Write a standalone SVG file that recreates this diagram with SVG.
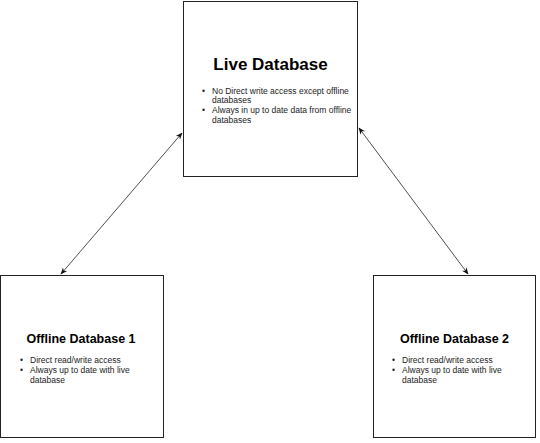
<svg xmlns="http://www.w3.org/2000/svg" width="540" height="443" viewBox="0 0 540 443">
<defs>
<marker id="ah" viewBox="0 0 10 10" refX="9" refY="5" markerWidth="7" markerHeight="7" orient="auto-start-reverse" markerUnits="userSpaceOnUse">
<path d="M0,1 L10,5 L0,9 L3,5 Z" fill="#111"/>
</marker>
</defs>
<style>
.box{fill:#fff;stroke:#222;stroke-width:1}
.title{font-family:"Liberation Sans",Arial,sans-serif;font-weight:bold;fill:#000;text-anchor:middle}
.txt{font-family:"Liberation Sans",Arial,sans-serif;font-size:8.5px;fill:#222}
.conn{stroke:#222;stroke-width:0.8;fill:none;marker-start:url(#ah);marker-end:url(#ah)}
</style>
<rect width="540" height="443" fill="#fff"/>
<g id="connectors">
<line class="conn" x1="182" y1="133" x2="61" y2="274"/>
<line class="conn" x1="359" y1="128" x2="468" y2="274"/>
</g>
<g id="live">
<rect class="box" x="183.5" y="1.5" width="174" height="175"/>
<text class="title" x="270.5" y="70" font-size="17">Live Database</text>
<text class="txt" x="202" y="93.5">•</text>
<text class="txt" x="212" y="93.5">No Direct write access except offline</text>
<text class="txt" x="212" y="103">databases</text>
<text class="txt" x="202" y="113">•</text>
<text class="txt" x="212" y="113">Always in up to date data from offline</text>
<text class="txt" x="212" y="122.5">databases</text>
</g>
<g id="offline1">
<rect class="box" x="0.5" y="275.5" width="163" height="162"/>
<text class="title" x="81" y="343" font-size="12.5">Offline Database 1</text>
<text class="txt" x="20" y="363">•</text>
<text class="txt" x="30" y="363">Direct read/write access</text>
<text class="txt" x="20" y="373">•</text>
<text class="txt" x="30" y="373">Always up to date with live</text>
<text class="txt" x="30" y="382.5">database</text>
</g>
<g id="offline2">
<rect class="box" x="373.5" y="275.5" width="162" height="162"/>
<text class="title" x="454.5" y="343" font-size="12.5">Offline Database 2</text>
<text class="txt" x="392" y="363">•</text>
<text class="txt" x="402" y="363">Direct read/write access</text>
<text class="txt" x="392" y="373">•</text>
<text class="txt" x="402" y="373">Always up to date with live</text>
<text class="txt" x="402" y="382.5">database</text>
</g>
</svg>
